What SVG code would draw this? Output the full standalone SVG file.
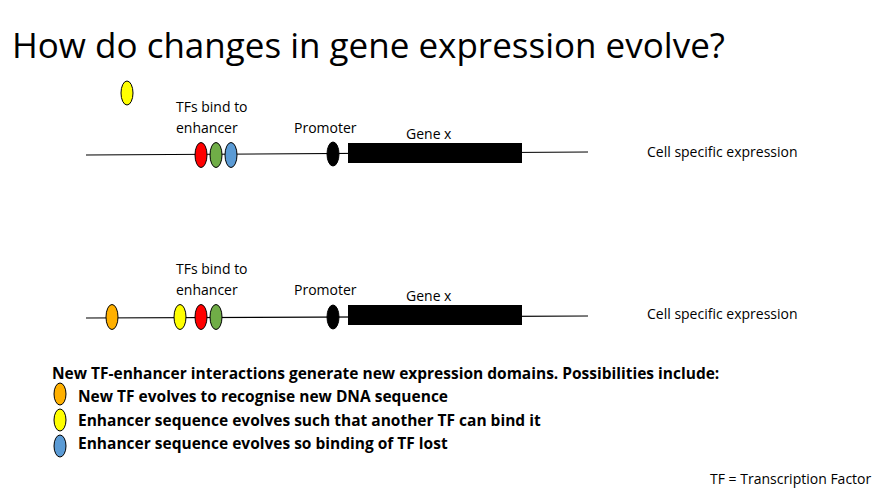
<svg xmlns="http://www.w3.org/2000/svg" width="890" height="504" viewBox="0 0 890 504">
<style>
text{font-family:"Open Sans","Liberation Sans",sans-serif;fill:#000}
.l{font-size:14px}
.b{font-size:15.5px;font-weight:bold}
.dna{stroke:#000;stroke-width:1.2}
ellipse{stroke:#000;stroke-width:1}
</style>
<rect width="890" height="504" fill="#fff"/>
<text x="12" y="58" style="font-size:35px">How do changes in gene expression evolve?</text>
<g id="connectors">
<line class="dna" x1="86" y1="155" x2="588" y2="152"/>
<line class="dna" x1="86" y1="318" x2="588" y2="316"/>
</g>
<g id="free-tf"><ellipse cx="127" cy="93" rx="6" ry="12" fill="#ffff00"/></g>
<g id="row1">
<text class="l" x="176" y="112">TFs bind to</text>
<text class="l" x="176" y="133">enhancer</text>
<text class="l" x="294" y="133">Promoter</text>
<text class="l" x="406" y="139">Gene x</text>
<ellipse cx="201" cy="155" rx="6" ry="12.5" fill="#ff0000"/>
<ellipse cx="216" cy="155" rx="6" ry="12.5" fill="#70ad47"/>
<ellipse cx="231" cy="155" rx="6" ry="12.5" fill="#5b9bd5"/>
<ellipse cx="333" cy="154" rx="6" ry="12" fill="#000"/>
<rect x="348" y="143" width="174" height="20" fill="#000"/>
<text class="l" x="647" y="157">Cell specific expression</text>
</g>
<g id="row2">
<text class="l" x="176" y="274">TFs bind to</text>
<text class="l" x="176" y="295">enhancer</text>
<text class="l" x="294" y="295">Promoter</text>
<text class="l" x="406" y="301">Gene x</text>
<ellipse cx="112" cy="317" rx="6" ry="12.5" fill="#ffb000"/>
<ellipse cx="180" cy="317" rx="6" ry="12.5" fill="#ffff00"/>
<ellipse cx="201" cy="317" rx="6" ry="12.5" fill="#ff0000"/>
<ellipse cx="216" cy="317" rx="6" ry="12.5" fill="#70ad47"/>
<ellipse cx="333" cy="317" rx="6" ry="12" fill="#000"/>
<rect x="348" y="305" width="174" height="20" fill="#000"/>
<text class="l" x="647" y="319">Cell specific expression</text>
</g>
<g id="legend">
<text class="b" x="52" y="379">New TF-enhancer interactions generate new expression domains. Possibilities include:</text>
<ellipse cx="60" cy="394" rx="6" ry="11" fill="#ffb000"/>
<text class="b" x="78" y="402">New TF evolves to recognise new DNA sequence</text>
<ellipse cx="60" cy="420" rx="6" ry="11" fill="#ffff00"/>
<text class="b" x="78" y="426">Enhancer sequence evolves such that another TF can bind it</text>
<ellipse cx="60" cy="446" rx="6" ry="11" fill="#5b9bd5"/>
<text class="b" x="78" y="449">Enhancer sequence evolves so binding of TF lost</text>
<text class="l" x="710" y="484">TF = Transcription Factor</text>
</g>
</svg>
